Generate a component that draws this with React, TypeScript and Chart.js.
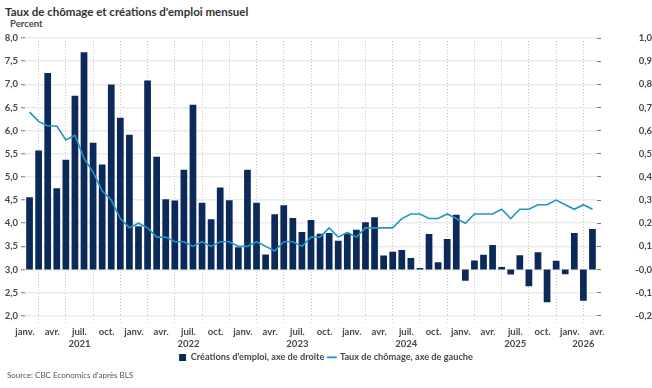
import React, { useEffect, useRef } from "react";
import { Chart, registerables } from "chart.js";

Chart.register(...registerables);

// Monthly categories (Jan 2021 – Mar 2026)
const months: string[] = [
  "2021-01", "2021-02", "2021-03", "2021-04", "2021-05", "2021-06", "2021-07", "2021-08", "2021-09", "2021-10", "2021-11", "2021-12",
  "2022-01", "2022-02", "2022-03", "2022-04", "2022-05", "2022-06", "2022-07", "2022-08", "2022-09", "2022-10", "2022-11", "2022-12",
  "2023-01", "2023-02", "2023-03", "2023-04", "2023-05", "2023-06", "2023-07", "2023-08", "2023-09", "2023-10", "2023-11", "2023-12",
  "2024-01", "2024-02", "2024-03", "2024-04", "2024-05", "2024-06", "2024-07", "2024-08", "2024-09", "2024-10", "2024-11", "2024-12",
  "2025-01", "2025-02", "2025-03", "2025-04", "2025-05", "2025-06", "2025-07", "2025-08", "2025-09", "2025-10", "2025-11", "2025-12",
  "2026-01", "2026-02", "2026-03",
];

// Job creations, millions (right axis)
const jobCreations: number[] = [
  0.312, 0.514, 0.849, 0.351, 0.474, 0.751, 0.938, 0.548, 0.454, 0.799, 0.656, 0.582,
  0.187, 0.816, 0.487, 0.303, 0.298, 0.431, 0.712, 0.288, 0.217, 0.354, 0.299, 0.096,
  0.431, 0.288, 0.065, 0.239, 0.277, 0.223, 0.162, 0.214, 0.154, 0.158, 0.124, 0.155,
  0.172, 0.204, 0.226, 0.061, 0.077, 0.084, 0.050, 0.006, 0.153, 0.031, 0.132, 0.237,
  -0.049, 0.039, 0.064, 0.106, 0.011, -0.022, 0.062, -0.072, 0.075, -0.142, 0.038, -0.020,
  0.158, -0.135, 0.175,
];

// Unemployment rate, percent (left axis)
const unemploymentRate: number[] = [
  6.4, 6.2, 6.1, 6.1, 5.8, 5.9, 5.4, 5.1, 4.7, 4.5, 4.1, 3.9,
  4.0, 3.9, 3.7, 3.7, 3.6, 3.6, 3.5, 3.6, 3.5, 3.6, 3.6, 3.5,
  3.5, 3.6, 3.5, 3.4, 3.6, 3.6, 3.5, 3.7, 3.7, 3.9, 3.7, 3.8,
  3.7, 3.9, 3.9, 3.9, 3.9, 4.1, 4.2, 4.2, 4.1, 4.1, 4.2, 4.1,
  4.0, 4.2, 4.2, 4.2, 4.3, 4.1, 4.3, 4.3, 4.4, 4.4, 4.5, 4.4,
  4.3, 4.4, 4.3,
];

// Quarter tick labels
const quarterTickLabels: string[] = ["janv.", "avr.", "juil.", "oct."];

const seriesLabels: string[] = [
  "Créations d'emploi, axe de droite",
  "Taux de chômage, axe de gauche",
];

const TITLE = "Taux de chômage et créations d'emploi mensuel";
const UNIT = "Percent";
const SOURCE = "Source: CBC Economics d'après BLS";

const FONT = "Lato, 'Open Sans', 'DejaVu Sans', sans-serif";
const NAVY = "#0b2a5a";
const BLUE = "#2592c8";
const TEXT = "#474747";

const fmt = (v: number) => Number(v).toFixed(1).replace(".", ",");

const yearLabelsPlugin = {
  id: "yearLabels",
  afterDraw(chart: any) {
    const xs = chart.scales.x;
    const ctx = chart.ctx as CanvasRenderingContext2D;
    const groups: { year: string; idx: number[] }[] = [];
    months.forEach((m, i) => {
      const y = m.slice(0, 4);
      let g = groups.find((q) => q.year === y);
      if (!g) {
        g = { year: y, idx: [] };
        groups.push(g);
      }
      g.idx.push(i);
    });
    ctx.save();
    ctx.font = `bold 9.5px ${FONT}`;
    ctx.fillStyle = TEXT;
    ctx.textAlign = "center";
    ctx.textBaseline = "middle";
    groups.forEach((g) => {
      const c = (g.idx[0] + g.idx[g.idx.length - 1] + 1) / 2;
      ctx.fillText(g.year, xs.getPixelForValue(c), xs.top + 28.5);
    });
    ctx.restore();
  },
};

export default function App() {
  const ref = useRef<HTMLCanvasElement>(null);

  useEffect(() => {
    if (!ref.current) return;
    const tickFont = { family: FONT, size: 9.5, weight: "bold" as const };
    const chart = new Chart(ref.current, {
      type: "line",
      data: {
        datasets: [
          {
            type: "bar",
            label: seriesLabels[0],
            data: jobCreations.map((v, i) => ({ x: i + 0.5, y: v })),
            backgroundColor: NAVY,
            borderWidth: 0,
            yAxisID: "y1",
            order: 1,
            barPercentage: 0.74,
            categoryPercentage: 1,
            pointStyle: "rect",
          } as any,
          {
            type: "line",
            label: seriesLabels[1],
            data: unemploymentRate.map((v, i) => ({ x: i + 0.5, y: v })),
            borderColor: BLUE,
            backgroundColor: BLUE,
            borderWidth: 1.6,
            pointRadius: 0,
            pointStyle: "line",
            tension: 0,
            yAxisID: "y",
            order: 0,
          } as any,
        ],
      },
      options: {
        animation: false,
        responsive: true,
        maintainAspectRatio: false,
        layout: { padding: { top: 38, bottom: 16, left: 0, right: 0 } },
        plugins: {
          tooltip: { enabled: false },
          legend: {
            position: "bottom",
            labels: {
              usePointStyle: true,
              boxWidth: 7,
              boxHeight: 7,
              padding: 4,
              color: TEXT,
              font: { family: FONT, size: 9.2, weight: "bold" },
              sort: (a: any, b: any) => a.datasetIndex - b.datasetIndex,
            },
          },
        },
        scales: {
          x: {
            type: "linear",
            min: 0,
            max: months.length,
            offset: false,
            border: { display: false, dash: [1, 2] },
            grid: {
              color: "#c4c4c4",
              lineWidth: 1,
              tickLength: 7,
              tickColor: "#c4c4c4",
              tickBorderDash: [1, 2],
            },
            ticks: {
              stepSize: 3,
              autoSkip: false,
              maxRotation: 0,
              padding: 3,
              color: TEXT,
              font: tickFont,
              callback: (v: any) => quarterTickLabels[Math.round(Number(v) / 3) % 4],
            },
            afterFit: (s: any) => {
              s.height = 33;
            },
          },
          y: {
            type: "linear",
            position: "left",
            min: 2,
            max: 8,
            border: { display: false },
            grid: {
              color: "#ebebeb",
              lineWidth: 1.5,
              tickLength: 4,
              tickColor: "#777",
              tickWidth: 1,
            },
            ticks: {
              stepSize: 0.5,
              padding: 3,
              color: TEXT,
              font: tickFont,
              callback: (v: any) => fmt(v),
            },
            afterFit: (s: any) => {
              s.width = 25;
            },
          },
          y1: {
            type: "linear",
            position: "right",
            min: -0.2,
            max: 1.0,
            border: { display: false },
            grid: {
              drawOnChartArea: false,
              tickLength: 4,
              tickColor: "#777",
              tickWidth: 1,
            },
            ticks: {
              stepSize: 0.1,
              padding: 2,
              crossAlign: "far",
              color: TEXT,
              font: tickFont,
              callback: (v: any) => fmt(v),
            },
            afterFit: (s: any) => {
              s.width = 55;
            },
          },
        },
      } as any,
      plugins: [yearLabelsPlugin],
    });
    return () => chart.destroy();
  }, []);

  return (
    <div
      style={{
        position: "absolute",
        left: 0,
        top: 0,
        width: 652,
        height: 388,
        background: "#fff",
        fontFamily: FONT,
      }}
    >
      <div
        style={{
          position: "absolute",
          left: 5,
          top: 6,
          fontSize: 11.5,
          lineHeight: "11px",
          fontWeight: 700,
          color: "#333",
          whiteSpace: "nowrap",
        }}
      >
        {TITLE}
      </div>
      <div
        style={{
          position: "absolute",
          left: 10,
          top: 19,
          fontSize: 9.5,
          lineHeight: "9px",
          fontWeight: 700,
          color: TEXT,
          whiteSpace: "nowrap",
        }}
      >
        {UNIT}
      </div>
      <div style={{ position: "absolute", left: 0, top: 0, width: 652, height: 388 }}>
        <canvas ref={ref} />
      </div>
      <div
        style={{
          position: "absolute",
          left: 7,
          top: 371,
          fontSize: 8,
          lineHeight: "8px",
          fontWeight: 400,
          color: "#555",
          whiteSpace: "nowrap",
        }}
      >
        {SOURCE}
      </div>
    </div>
  );
}
